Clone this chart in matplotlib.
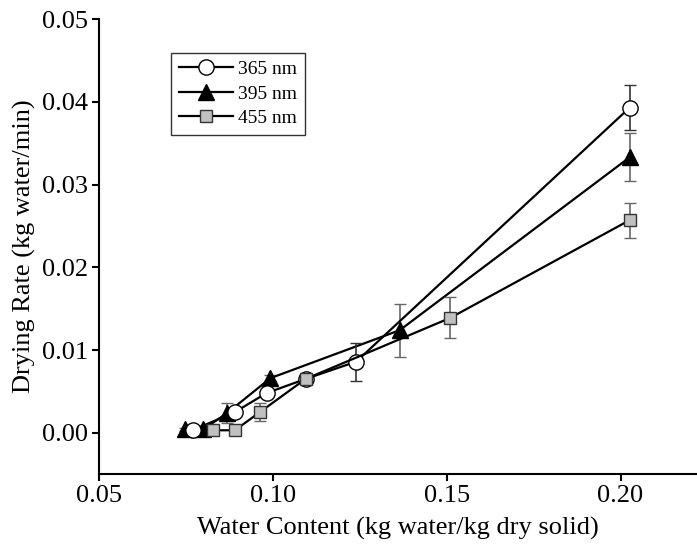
import matplotlib as mpl
mpl.use("Agg")
import matplotlib.pyplot as plt
import numpy as np

plt.rcParams['font.family'] = ['Liberation Serif', 'DejaVu Serif']

# 365 nm
x_365 = [0.0769, 0.0891, 0.0982, 0.1094, 0.1240, 0.2026]
y_365 = [0.0003, 0.0025, 0.0048, 0.0065, 0.0086, 0.0393]
e_365 = [0.0003, 0.0004, 0.0005, 0.0003, 0.0023, 0.0027]

# 395 nm
x_395 = [0.0747, 0.0800, 0.0869, 0.0993, 0.1365, 0.2026]
y_395 = [0.0004, 0.0004, 0.0024, 0.0066, 0.0124, 0.0333]
e_395 = [0.0002, 0.0002, 0.0012, 0.0004, 0.0032, 0.0029]

# 455 nm
x_455 = [0.0829, 0.0891, 0.0963, 0.1094, 0.1511, 0.2026]
y_455 = [0.0003, 0.0003, 0.0025, 0.0065, 0.0139, 0.0257]
e_455 = [0.0004, 0.0004, 0.0011, 0.0003, 0.0025, 0.0021]

labels = ["365 nm", "395 nm", "455 nm"]

fig = plt.figure(figsize=(6.97, 5.5), dpi=100)
ax = fig.add_axes([0.142, 0.138, 0.858, 0.827])

c1 = ax.errorbar(x_365, y_365, yerr=e_365, color="black", lw=1.6,
                 marker="o", ms=11, mfc="white", mec="black", mew=1,
                 ecolor="#333333", elinewidth=1.2, capsize=4, capthick=1.2,
                 zorder=3)
c2 = ax.errorbar(x_395, y_395, yerr=e_395, color="black", lw=1.6,
                 marker="^", ms=11, mfc="black", mec="black", mew=1,
                 ecolor="#666666", elinewidth=1.2, capsize=4, capthick=1.2,
                 zorder=2)
c3 = ax.errorbar(x_455, y_455, yerr=e_455, color="black", lw=1.6,
                 marker="s", ms=9, mfc="#c0c0c0", mec="#333333", mew=1,
                 ecolor="#666666", elinewidth=1.2, capsize=4, capthick=1.2,
                 zorder=4)

ax.set_xlim(0.05, 0.222)
ax.set_ylim(-0.005, 0.05)
ax.set_xticks([0.05, 0.10, 0.15, 0.20])
ax.set_xticklabels(["0.05", "0.10", "0.15", "0.20"])
ax.set_yticks([0.00, 0.01, 0.02, 0.03, 0.04, 0.05])
ax.set_yticklabels(["0.00", "0.01", "0.02", "0.03", "0.04", "0.05"])

ax.spines["top"].set_visible(False)
ax.spines["right"].set_visible(False)
ax.spines["left"].set_linewidth(1.5)
ax.spines["bottom"].set_linewidth(1.5)
ax.tick_params(direction="out", length=5, width=1.5, labelsize=19, pad=3)

ax.set_xlabel("Water Content (kg water/kg dry solid)", fontsize=19, labelpad=7)
ax.set_ylabel("Drying Rate (kg water/min)", fontsize=19, labelpad=4)

# legend shows only the line+marker, no error bars
leg = ax.legend([c1[0], c2[0], c3[0]], labels, loc="upper left",
                bbox_to_anchor=(0.12, 0.926), borderaxespad=0,
                fontsize=14, frameon=True, fancybox=False, handlelength=2.8,
                handletextpad=0.25, labelspacing=0.35, borderpad=0.4)
leg.get_frame().set_edgecolor("black")
leg.get_frame().set_linewidth(1.0)

fig.savefig("out.png", dpi=100)
